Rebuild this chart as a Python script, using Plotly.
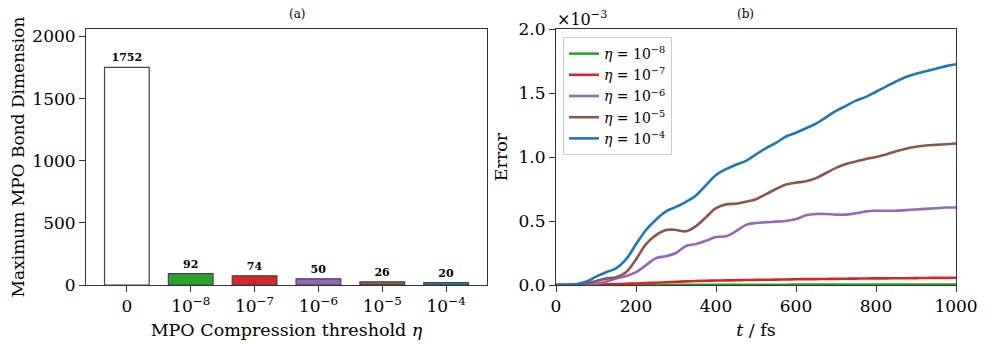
import plotly.graph_objects as go

# ---- Data ----
bar_labels = ["0", "10<sup>−8</sup>", "10<sup>−7</sup>", "10<sup>−6</sup>", "10<sup>−5</sup>", "10<sup>−4</sup>"]
bar_values = [1752, 92, 74, 50, 26, 20]
bar_colors = ["#ffffff", "#2ca02c", "#d62728", "#9467bd", "#8c564b", "#1f77b4"]

t = [0, 25, 50, 75, 100, 125, 150, 175, 200, 225, 250, 275, 300, 325, 350, 375, 400,
     425, 450, 475, 500, 525, 550, 575, 600, 625, 650, 675, 700, 725, 750, 775, 800,
     825, 850, 875, 900, 925, 950, 975, 1000]
# errors in units of 1e-3
err_m4 = [0, 0.001, 0.006, 0.025, 0.065, 0.10, 0.13, 0.20, 0.318, 0.43, 0.51, 0.575, 0.61,
          0.65, 0.70, 0.78, 0.86, 0.905, 0.94, 0.97, 1.02, 1.07, 1.11, 1.16, 1.19, 1.225,
          1.26, 1.31, 1.36, 1.40, 1.44, 1.47, 1.51, 1.55, 1.59, 1.625, 1.65, 1.67, 1.69,
          1.71, 1.725]
err_m5 = [0, 0.001, 0.003, 0.012, 0.03, 0.05, 0.06, 0.10, 0.2, 0.32, 0.39, 0.43, 0.43,
          0.42, 0.46, 0.53, 0.60, 0.63, 0.635, 0.65, 0.67, 0.71, 0.75, 0.785, 0.80, 0.81,
          0.835, 0.875, 0.915, 0.945, 0.965, 0.985, 1.0, 1.02, 1.045, 1.065, 1.08, 1.09,
          1.095, 1.10, 1.105]
err_m6 = [0, 0.0, 0.001, 0.004, 0.01, 0.025, 0.05, 0.07, 0.10, 0.155, 0.21, 0.225, 0.25,
          0.305, 0.32, 0.345, 0.375, 0.38, 0.42, 0.47, 0.485, 0.49, 0.495, 0.50, 0.515,
          0.545, 0.555, 0.555, 0.55, 0.55, 0.56, 0.575, 0.58, 0.58, 0.58, 0.585, 0.59,
          0.595, 0.60, 0.605, 0.605]
err_m7 = [0, 0.0, 0.0005, 0.001, 0.003, 0.005, 0.007, 0.009, 0.012, 0.015, 0.018, 0.021,
          0.025, 0.028, 0.031, 0.033, 0.035, 0.036, 0.037, 0.039, 0.040, 0.041, 0.042,
          0.043, 0.045, 0.046, 0.046, 0.047, 0.048, 0.049, 0.050, 0.051, 0.052, 0.052,
          0.053, 0.053, 0.054, 0.055, 0.056, 0.056, 0.057]
err_m8 = [0, 0.0, 0.0, 0.0005, 0.001, 0.001, 0.0012, 0.0014, 0.0015, 0.0017, 0.0018, 0.002,
          0.002, 0.002, 0.0021, 0.0022, 0.0022, 0.0023, 0.0023, 0.0024, 0.0024, 0.0025,
          0.0025, 0.0025, 0.0026, 0.0026, 0.0026, 0.0027, 0.0027, 0.0027, 0.0028, 0.0028,
          0.0028, 0.0029, 0.0029, 0.0029, 0.003, 0.003, 0.003, 0.003, 0.003]
line_names = ["<i>η</i> = 10<sup>−8</sup>", "<i>η</i> = 10<sup>−7</sup>", "<i>η</i> = 10<sup>−6</sup>",
              "<i>η</i> = 10<sup>−5</sup>", "<i>η</i> = 10<sup>−4</sup>"]
line_series = [err_m8, err_m7, err_m6, err_m5, err_m4]
line_colors = ["#2ca02c", "#d62728", "#9467bd", "#8c564b", "#1f77b4"]

FONT = "DejaVu Serif"
OFF = 8               # page body margin of the html page
W, H = 986 - OFF, 344 - OFF


def px(x):
    return (x - OFF) / W


def py(y):
    return (H - (y - OFF)) / H


fig = go.Figure()

fig.add_trace(go.Bar(
    x=list(range(len(bar_values))), y=bar_values,
    marker=dict(color=bar_colors, line=dict(color="#444444", width=1.2)),
    width=0.7, text=bar_values, texttemplate="<b>%{y}</b>", textposition="outside",
    textfont=dict(family=FONT, size=11, color="black"), cliponaxis=False,
    xaxis="x", yaxis="y", showlegend=False,
))

for name, ys, c in zip(line_names, line_series, line_colors):
    fig.add_trace(go.Scatter(
        x=t, y=ys, mode="lines", name=name, line=dict(color=c, width=2.6, shape="spline"),
        xaxis="x2", yaxis="y2",
    ))

axis_common = dict(showline=True, mirror=True, linecolor="#333333", linewidth=1,
                   ticks="outside", ticklen=6, tickcolor="#333333", showgrid=False,
                   zeroline=False, automargin=False,
                   tickfont=dict(family=FONT, size=17, color="black"))

ydom = [py(285), py(29)]
fig.update_layout(
    width=W, height=H, margin=dict(l=0, r=0, t=0, b=0, pad=0, autoexpand=False),
    paper_bgcolor="white", plot_bgcolor="white",
    font=dict(family=FONT, color="black"),
    xaxis=dict(domain=[px(86), px(487)], range=[-0.64, 5.64],
               tickvals=list(range(len(bar_labels))), ticktext=bar_labels,
               title=dict(text="MPO Compression threshold <i>η</i>", font=dict(size=17.5), standoff=8),
               **axis_common),
    yaxis=dict(domain=ydom, range=[0, 2060], tickvals=[0, 500, 1000, 1500, 2000],
               title=dict(text="Maximum MPO Bond Dimension", font=dict(size=17), standoff=6),
               **axis_common),
    xaxis2=dict(domain=[px(556), px(956)], range=[0, 1000], anchor="y2",
                tickvals=[0, 200, 400, 600, 800, 1000],
                title=dict(text="<i>t</i> / fs", font=dict(size=17.5), standoff=8),
                **axis_common),
    yaxis2=dict(domain=ydom, range=[0, 2.0], anchor="x2", tickvals=[0, 0.5, 1.0, 1.5, 2.0],
                tickformat=".1f",
                title=dict(text="Error", font=dict(size=17.5), standoff=6),
                **axis_common),
    legend=dict(x=px(563), y=py(37), xanchor="left", yanchor="top",
                bgcolor="rgba(255,255,255,0.9)", bordercolor="#cccccc", borderwidth=1,
                font=dict(family=FONT, size=14), tracegroupgap=0, itemwidth=30),
    annotations=[
        dict(text="(a)", x=px((86 + 487) / 2), y=py(14), xref="paper", yref="paper",
             yanchor="middle", showarrow=False, font=dict(family=FONT, size=12)),
        dict(text="(b)", x=px((556 + 956) / 2), y=py(14), xref="paper", yref="paper",
             yanchor="middle", showarrow=False, font=dict(family=FONT, size=12)),
        dict(text="×10<sup>−3</sup>", x=px(555), y=py(18), xref="paper", yref="paper",
             xanchor="left", yanchor="middle", showarrow=False, font=dict(family=FONT, size=16)),
    ],
)

fig.write_html("out.html")
